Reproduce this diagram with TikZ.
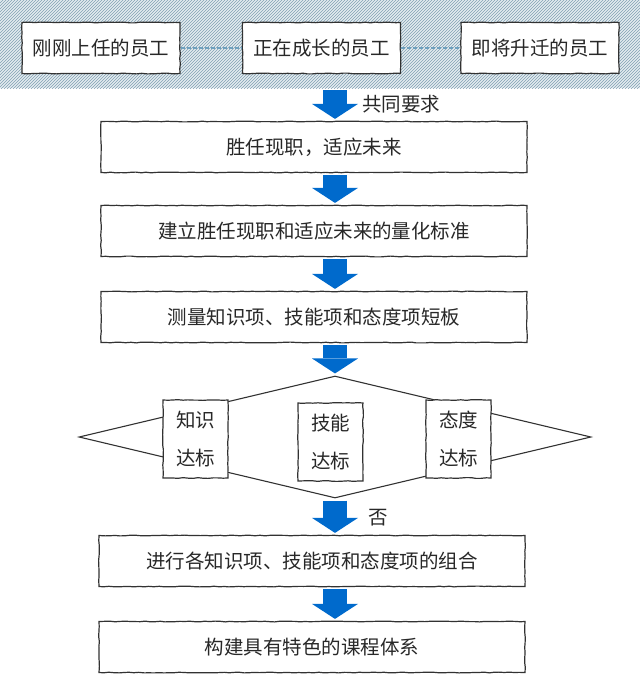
\documentclass[tikz,border=0pt]{standalone}
\usepackage{fontspec}
\setmainfont{Noto Sans CJK SC}
\usetikzlibrary{patterns,arrows.meta,shapes.geometric,decorations.pathmorphing}

\definecolor{arrowblue}{RGB}{0,106,204}
\definecolor{hatchblue}{RGB}{128,160,178}
\definecolor{bandbg}{RGB}{228,236,240}
\definecolor{txtgray}{RGB}{40,40,40}
\definecolor{edgegray}{RGB}{50,50,50}
\definecolor{dashblue}{RGB}{110,160,190}

\tikzset{
  roughbox/.style={draw=edgegray, line width=1.2pt, fill=white, inner sep=0pt,
    text=txtgray, font=\fontsize{19.5}{38}\selectfont, align=center,
    decorate, decoration={random steps,segment length=5pt,amplitude=0.4pt}},
  staffbox/.style={roughbox, minimum width=158pt, minimum height=51pt},
  stagebox/.style={roughbox, minimum width=426pt, minimum height=51pt},
  checkbox/.style={roughbox, minimum width=65pt, minimum height=78pt},
  bigarrow/.style={draw=arrowblue, line width=24pt,
    -{Triangle[width=46pt,length=15pt,line width=0pt]},
    shorten <=2pt, shorten >=2pt},
  dashline/.style={dashblue, line width=1.5pt, dash pattern=on 4pt off 2pt},
  note/.style={text=txtgray, font=\fontsize{19.5}{24}\selectfont}
}

\begin{document}
\begin{tikzpicture}[x=1pt,y=-1pt]
\useasboundingbox (0,0) rectangle (640,678);

% staff groups
\node[minimum width=640pt, minimum height=88pt, inner sep=0pt,
  preaction={fill=bandbg}, pattern=north east lines, pattern color=hatchblue]
  (staff) at (320,44) {};
\node[staffbox] (new) at (101,48) {刚刚上任的员工};
\node[staffbox] (grow) at (321.5,48) {正在成长的员工};
\node[staffbox] (promo) at (540,48) {即将升迁的员工};
\draw[dashline] (new.east) -- (grow.west);
\draw[dashline] (grow.east) -- (promo.west);

% main flow
\coordinate (spine) at (335,0);
\node[stagebox] (goal) at (314,147) {胜任现职，适应未来};
\node[stagebox] (norm) at (314,231) {建立胜任现职和适应未来的量化标准};
\node[stagebox] (gap) at (314,317) {测量知识项、技能项和态度项短板};
\node[diamond, draw=edgegray, line width=1.1pt, minimum width=512pt,
  minimum height=122pt, inner sep=0pt] (check) at (335,437) {};
\node[checkbox] (know) at (195.5,439) {知识\\达标};
\node[checkbox] (skill) at (330.5,442) {技能\\达标};
\node[checkbox] (attit) at (458.5,439) {态度\\达标};
\node[stagebox] (combo) at (312,561) {进行各知识项、技能项和态度项的组合};
\node[stagebox] (course) at (312,647) {构建具有特色的课程体系};

\draw[bigarrow] (staff.south -| spine) -- (goal.north -| spine);
\node[note] (common) at (401,104) {共同要求};
\draw[bigarrow] (goal.south -| spine) -- (norm.north -| spine);
\draw[bigarrow] (norm.south -| spine) -- (gap.north -| spine);
\draw[bigarrow] (gap.south -| spine) -- (check.north);
\draw[bigarrow] (check.south) -- (combo.north -| spine);
\node[note] (no) at (378,518) {否};
\draw[bigarrow] (combo.south -| spine) -- (course.north -| spine);
\end{tikzpicture}
\end{document}
